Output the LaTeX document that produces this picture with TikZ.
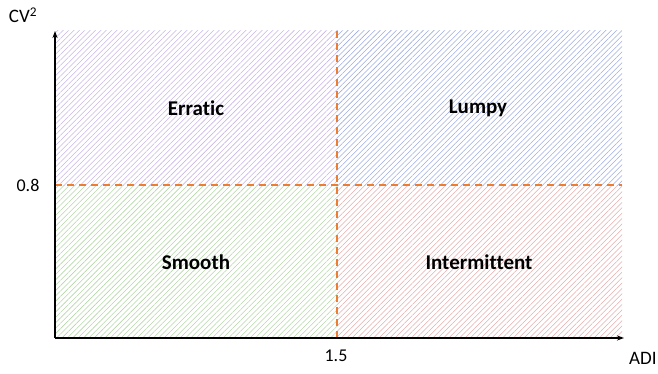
\documentclass[tikz,border=0pt]{standalone}
\usepackage{fontspec}
\setmainfont{Carlito}[Ligatures={NoCommon,NoRare}]
\usetikzlibrary{patterns.meta,arrows.meta}
\definecolor{hpurple}{RGB}{200,182,228}
\definecolor{hblue}{RGB}{158,172,224}
\definecolor{hgreen}{RGB}{180,214,168}
\definecolor{hred}{RGB}{228,172,172}
\definecolor{thr}{RGB}{237,125,49}
\tikzset{
  hatch/.style={pattern={Lines[angle=45,distance=3.8pt,line width=0.55pt]},pattern color=#1,draw=none},
  axis/.style={line width=1.3pt,-{Stealth[length=7pt,width=5pt]}},
  threshold/.style={thr,line width=1.6pt,dash pattern=on 7pt off 5pt},
  quad/.style={font=\bfseries\fontsize{21}{24}\selectfont},
  tick/.style={font=\fontsize{18}{20}\selectfont},
  axlabel/.style={font=\fontsize{19}{22}\selectfont}
}
\begin{document}
\begin{tikzpicture}[x=1pt,y=1pt]
\useasboundingbox (0,0) rectangle (658,373);
% corners of the plotting area
\coordinate (O) at (55,35);
\coordinate (ytip) at (55,342);
\coordinate (xtip) at (624,35);
% hatched quadrants
\fill[hatch=hpurple] (55,188) rectangle (337,342);
\fill[hatch=hblue] (337,188) rectangle (622,342);
\fill[hatch=hgreen] (55,35) rectangle (337,188);
\fill[hatch=hred] (337,35) rectangle (622,188);
% thresholds
\coordinate (vtop) at (337,342);
\coordinate (vbot) at (337,35);
\coordinate (hl) at (55,188);
\coordinate (hr) at (622,188);
\draw[threshold] (vbot) -- (vtop);
\draw[threshold] (hl) -- (hr);
% axes
\draw[axis] (O) -- (ytip);
\draw[axis] (O) -- (xtip);
% labels
\node[quad] (erratic) at (196,265) {Erratic};
\node[quad] (lumpy) at (478,265) {Lumpy};
\node[quad] (smooth) at (196,111) {Smooth};
\node[quad] (intermittent) at (479,111) {Intermittent};
\node[axlabel] (cv) at (23,358) {CV\textsuperscript{2}};
\node[axlabel,anchor=west,inner sep=0pt] (adi) at (629,15) {ADI};
\node[tick] (t08) at (28,188) {0.8};
\node[tick] (t15) at (336,17) {1.5};
\end{tikzpicture}
\end{document}
